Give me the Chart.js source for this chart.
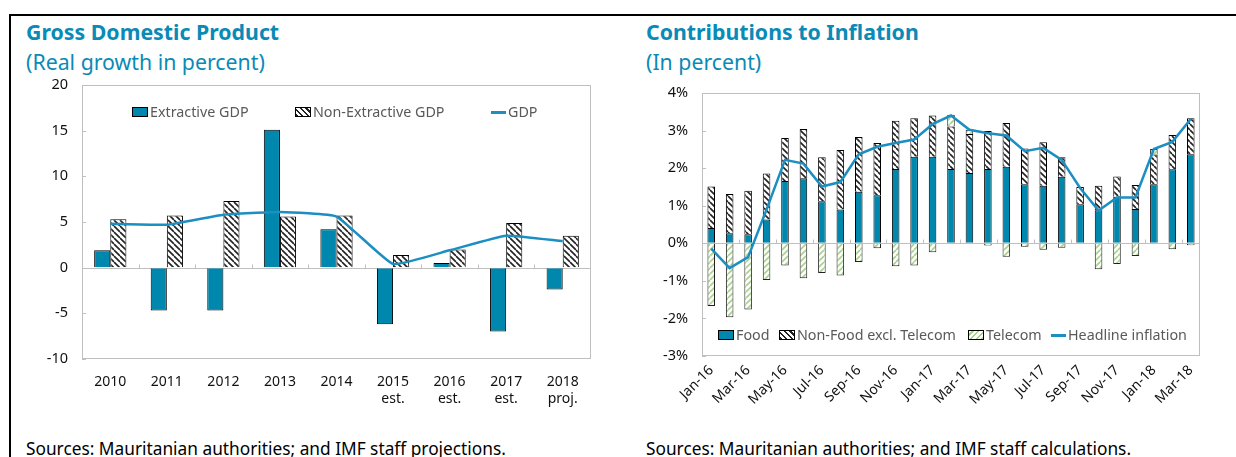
<!DOCTYPE html>
<html>
<head>
<meta charset="utf-8">
<script src="https://cdn.jsdelivr.net/npm/chart.js@4.4.0/dist/chart.umd.min.js"></script>
<style>
  body { margin: 0; width: 1236px; height: 457px; background: #fff; position: relative; overflow: hidden; font-family: 'Noto Sans', sans-serif; }
  .rule { position: absolute; background: #000; }
  .title { position: absolute; color: #0a8ab6; font-weight: bold; font-size: 21.3px; line-height: 24px; white-space: nowrap; }
  .subtitle { position: absolute; color: #0a8ab6; font-size: 21.3px; line-height: 24px; white-space: nowrap; }
  .source { position: absolute; font-size: 17.3px; line-height: 20px; color: #000; white-space: nowrap; }
  .box { position: absolute; }
  .box canvas { display: block; }
  .item { position: absolute; height: 16px; display: flex; align-items: center; font-size: 14.3px; line-height: 16px; color: #595959; white-space: nowrap; }
  .sw { width: 14px; height: 8px; border: 1px solid #000; margin-right: 2px; }
  .ln { width: 15px; height: 3px; background: #1b8ec2; margin-right: 2px; }
  .solid { background: #0087ad; }
  .hatch { background: repeating-linear-gradient(45deg, #222 0 1.5px, #fff 1.5px 4px); }
  .green { background: repeating-linear-gradient(-45deg, #a9d18e 0 1.5px, #fff 1.5px 4px); }
</style>
</head>
<body>
<div class="rule" style="left:9px;top:14px;width:1227px;height:2px"></div>
<div class="rule" style="left:9px;top:14px;width:2px;height:443px"></div>

<div class="title" style="left:26px;top:20px">Gross Domestic Product</div>
<div class="subtitle" style="left:26px;top:50px">(Real growth in percent)</div>
<div class="title" style="left:646px;top:20px">Contributions to Inflation</div>
<div class="subtitle" style="left:646px;top:50px">(In percent)</div>

<div class="box" style="left:0;top:70px"><canvas id="gdpChart" width="600" height="345"></canvas></div>
<div class="box" style="left:620px;top:70px"><canvas id="inflChart" width="600" height="350"></canvas></div>

<div class="item" style="left:132px;top:104px"><div class="sw solid"></div>Extractive GDP</div>
<div class="item" style="left:295px;top:104px"><div class="sw hatch"></div>Non-Extractive GDP</div>
<div class="item" style="left:491px;top:104px"><div class="ln"></div>GDP</div>

<div class="item" style="left:718px;top:327px"><div class="sw solid"></div>Food</div>
<div class="item" style="left:779px;top:327px"><div class="sw hatch"></div>Non-Food excl. Telecom</div>
<div class="item" style="left:968px;top:327px"><div class="sw green"></div>Telecom</div>
<div class="item" style="left:1051px;top:327px"><div class="ln"></div>Headline inflation</div>

<div class="source" style="left:26px;top:439px">Sources: Mauritanian authorities; and IMF staff projections.</div>
<div class="source" style="left:646px;top:439px">Sources: Mauritanian authorities; and IMF staff calculations.</div>

<script>
// GDP panel
const gdpYears = ['2010', '2011', '2012', '2013', '2014', ['2015', 'est.'], ['2016', 'est.'], ['2017', 'est.'], ['2018', 'proj.']];
const extractiveGdp = [1.9, -4.7, -4.7, 15.1, 4.2, -6.2, 0.5, -7.0, -2.4];
const nonExtractiveGdp = [5.3, 5.7, 7.3, 5.6, 5.7, 1.4, 2.0, 4.9, 3.5];
const totalGdp = [4.8, 4.7, 5.8, 6.1, 5.6, 0.4, 1.9, 3.5, 2.9];
const gdpTicks = [-10, -5, 0, 5, 10, 15, 20];

// inflation panel
const months = ['Jan-16', 'Feb-16', 'Mar-16', 'Apr-16', 'May-16', 'Jun-16', 'Jul-16', 'Aug-16', 'Sep-16', 'Oct-16', 'Nov-16', 'Dec-16',
  'Jan-17', 'Feb-17', 'Mar-17', 'Apr-17', 'May-17', 'Jun-17', 'Jul-17', 'Aug-17', 'Sep-17', 'Oct-17', 'Nov-17', 'Dec-17',
  'Jan-18', 'Feb-18', 'Mar-18'];
const food = [0.41, 0.27, 0.24, 0.63, 1.66, 1.73, 1.12, 0.90, 1.37, 1.28, 1.98, 2.30,
  2.30, 1.98, 1.87, 1.98, 2.04, 1.57, 1.53, 1.77, 1.04, 0.88, 1.24, 0.91,
  1.57, 1.97, 2.37];
const nonFood = [1.10, 1.04, 1.16, 1.23, 1.14, 1.31, 1.17, 1.58, 1.46, 1.39, 1.28, 1.03,
  1.10, 1.13, 1.04, 1.01, 1.16, 0.95, 1.16, 0.52, 0.46, 0.65, 0.54, 0.64,
  0.79, 0.91, 0.96];
const telecom = [-1.67, -1.97, -1.76, -0.98, -0.59, -0.93, -0.79, -0.86, -0.50, -0.13, -0.61, -0.59,
  -0.24, 0.31, 0.11, -0.06, -0.36, -0.09, -0.17, -0.12, 0.0, -0.69, -0.55, -0.34,
  0.15, -0.16, -0.05];
const headline = [-0.14, -0.66, -0.37, 0.90, 2.22, 2.12, 1.51, 1.63, 2.37, 2.57, 2.67, 2.76,
  3.17, 3.40, 3.02, 2.93, 2.87, 2.45, 2.54, 2.22, 1.47, 0.87, 1.22, 1.22,
  2.51, 2.70, 3.31];
const inflTicks = [-3, -2, -1, 0, 1, 2, 3, 4];

const TEAL = '#0087ad';
const LINE = '#1b8ec2';
const AXIS = '#bfbfbf';

function stripes(ctx, fg, dir) {
  const s = 6;
  const c = document.createElement('canvas');
  c.width = s; c.height = s;
  const g = c.getContext('2d');
  g.fillStyle = '#fff';
  g.fillRect(0, 0, s, s);
  g.strokeStyle = fg;
  g.lineWidth = 1.6;
  g.beginPath();
  for (const k of [-s, 0, s]) {
    if (dir === '\\') { g.moveTo(k, 0); g.lineTo(k + s, s); }
    else { g.moveTo(k, s); g.lineTo(k + s, 0); }
  }
  g.stroke();
  return ctx.createPattern(c, 'repeat');
}

// plot frame, zero line and the small tick marks
const frame = {
  id: 'frame',
  beforeDatasetsDraw(chart, args, opts) {
    const { ctx, chartArea: a, scales: { x, y } } = chart;
    ctx.save();
    ctx.strokeStyle = AXIS;
    ctx.lineWidth = 1;
    ctx.strokeRect(a.left + 0.5, a.top + 0.5, a.width - 1, a.height - 1);
    const y0 = Math.round(y.getPixelForValue(0)) + 0.5;
    ctx.beginPath();
    ctx.moveTo(a.left, y0);
    ctx.lineTo(a.right, y0);
    for (let i = opts.every; i < x.ticks.length; i += opts.every) {
      const px = Math.round((x.getPixelForValue(i - 1) + x.getPixelForValue(i)) / 2) + 0.5;
      ctx.moveTo(px, y0 - 4);
      ctx.lineTo(px, y0);
    }
    y.ticks.forEach(t => {
      const py = Math.round(y.getPixelForValue(t.value)) + 0.5;
      ctx.moveTo(a.left, py);
      ctx.lineTo(a.left + 4, py);
    });
    ctx.stroke();
    ctx.restore();
  }
};

// y axis: no visible grid, the label gap comes from an invisible tick length
const yGrid = { display: true, drawOnChartArea: false, drawTicks: true, tickLength: 10, tickColor: 'rgba(0,0,0,0)' };

Chart.defaults.font.family = "'Noto Sans', sans-serif";
Chart.defaults.color = '#111';

const gctx = document.getElementById('gdpChart').getContext('2d');
new Chart(gctx, {
  type: 'bar',
  data: {
    labels: gdpYears,
    datasets: [
      { label: 'GDP', type: 'line', data: totalGdp, borderColor: LINE, borderWidth: 2.5, pointRadius: 0, tension: 0.12, order: 0 },
      { label: 'Extractive GDP', data: extractiveGdp, backgroundColor: TEAL, borderColor: '#000', borderWidth: 1, order: 1 },
      { label: 'Non-Extractive GDP', data: nonExtractiveGdp, backgroundColor: stripes(gctx, '#222', '\\'), borderColor: '#000', borderWidth: 1, order: 1 }
    ]
  },
  options: {
    responsive: false,
    animation: false,
    devicePixelRatio: 1,
    layout: { padding: { top: 15, right: 9, left: 0, bottom: 0 } },
    datasets: { bar: { barPercentage: 1, categoryPercentage: 0.57 } },
    plugins: { legend: { display: false }, tooltip: { enabled: false }, frame: { every: 1 } },
    scales: {
      x: {
        grid: { display: false, drawTicks: false },
        border: { display: false },
        ticks: { font: { size: 14 }, padding: 15, maxRotation: 0, autoSkip: false },
        afterFit: s => { s.height = 56; }
      },
      y: {
        min: -10, max: 20,
        grid: yGrid,
        border: { display: false },
        afterBuildTicks: s => { s.ticks = gdpTicks.map(v => ({ value: v })); },
        ticks: { font: { size: 14.5 }, padding: 4 },
        afterFit: s => { s.width = 82; }
      }
    }
  },
  plugins: [frame]
});

const ictx = document.getElementById('inflChart').getContext('2d');
new Chart(ictx, {
  type: 'bar',
  data: {
    labels: months,
    datasets: [
      { label: 'Headline inflation', type: 'line', data: headline, borderColor: LINE, borderWidth: 2.5, pointRadius: 0, tension: 0, stack: 'line', order: 0 },
      { label: 'Food', data: food, backgroundColor: TEAL, borderColor: '#000', borderWidth: 1, stack: 'bars', order: 1 },
      { label: 'Non-Food excl. Telecom', data: nonFood, backgroundColor: stripes(ictx, '#222', '\\'), borderColor: '#000', borderWidth: 1, stack: 'bars', order: 1 },
      { label: 'Telecom', data: telecom, backgroundColor: stripes(ictx, '#a9d18e', '/'), borderColor: '#222', borderWidth: 1, stack: 'bars', order: 1 }
    ]
  },
  options: {
    responsive: false,
    animation: false,
    devicePixelRatio: 1,
    layout: { padding: { top: 23, right: 20, left: 0, bottom: 0 } },
    datasets: { bar: { barPercentage: 1, categoryPercentage: 0.41 } },
    plugins: { legend: { display: false }, tooltip: { enabled: false }, frame: { every: 2 } },
    scales: {
      x: {
        stacked: true,
        grid: { display: false, drawTicks: false },
        border: { display: false },
        ticks: {
          font: { size: 14 }, padding: 6, minRotation: 45, maxRotation: 45, autoSkip: false,
          callback: (v, i) => (i % 2 === 0 ? months[i] : '')
        },
        afterFit: s => { s.height = 64; }
      },
      y: {
        stacked: true,
        min: -3, max: 4,
        grid: yGrid,
        border: { display: false },
        afterBuildTicks: s => { s.ticks = inflTicks.map(v => ({ value: v })); },
        ticks: { font: { size: 14.5 }, padding: 4, callback: v => v + '%' },
        afterFit: s => { s.width = 82; }
      }
    }
  },
  plugins: [frame]
});
</script>
</body>
</html>
